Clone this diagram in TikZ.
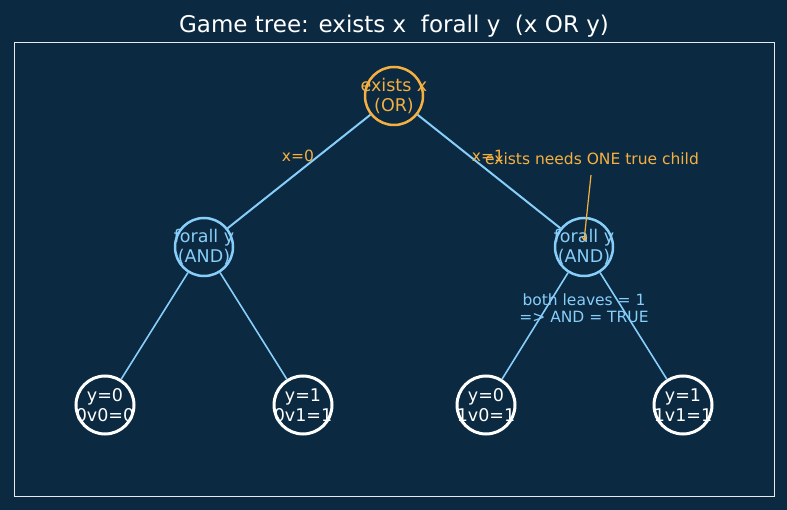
\documentclass[tikz,border=0pt]{standalone}
\usepackage{fontspec}
\setmainfont{DejaVu Sans}
\usetikzlibrary{arrows.meta}
\definecolor{bg}{RGB}{11,41,64}
\definecolor{orng}{RGB}{245,176,65}
\definecolor{lblue}{RGB}{135,206,250}
\tikzset{
  ring/.style={circle, minimum size=58pt, inner sep=0pt, line width=2.5pt},
  ortxt/.style={font=\fontsize{17.5}{20.5}\selectfont, align=center, text=orng},
  bltxt/.style={font=\fontsize{17.5}{20.5}\selectfont, align=center, text=lblue},
  whtxt/.style={font=\fontsize{17.5}{20.5}\selectfont, align=center, text=white},
  edgetop/.style={draw=lblue, line width=2pt},
  edgelow/.style={draw=lblue, line width=1.6pt},
  small/.style={font=\fontsize{15.5}{17.5}\selectfont, align=center}
}
\begin{document}
\begin{tikzpicture}[x=1pt,y=-1pt]
\fill[bg] (0,0) rectangle (787,510);
\useasboundingbox (0,0) rectangle (787,510);
\draw[white!90!bg, line width=1pt] (14,43) rectangle (774,496);
\node[text=white, font=\fontsize{23}{27}\selectfont] (title) at (394,26) {Game tree: exists x\ \ forall y\ \ (x OR y)};
% circles
\node[ring, draw=orng] (root) at (394,96) {};
\node[ring, draw=lblue] (L) at (204,247) {};
\node[ring, draw=lblue] (R) at (584,247) {};
\node[ring, draw=white, line width=3pt] (LL) at (105,405) {};
\node[ring, draw=white, line width=3pt] (LR) at (303,405) {};
\node[ring, draw=white, line width=3pt] (RL) at (486,405) {};
\node[ring, draw=white, line width=3pt] (RR) at (683,405) {};
% edges
\draw[edgetop] (root) -- (L);
\draw[edgetop] (root) -- (R);
\draw[edgelow] (L) -- (LL);
\draw[edgelow] (L) -- (LR);
\draw[edgelow] (R) -- (RL);
\draw[edgelow] (R) -- (RR);
% texts
\node[ortxt] (roott) at (394,96) {exists x\\(OR)};
\node[bltxt] (Lt) at (204,247) {forall y\\(AND)};
\node[bltxt] (Rt) at (584,247) {forall y\\(AND)};
\node[whtxt] (LLt) at (105,405) {y=0\\0v0=0};
\node[whtxt] (LRt) at (303,405) {y=1\\0v1=1};
\node[whtxt] (RLt) at (486,405) {y=0\\1v0=1};
\node[whtxt] (RRt) at (683,405) {y=1\\1v1=1};
% labels
\node[small, text=orng] (x0) at (298,156) {x=0};
\node[small, text=orng] (x1) at (488,156) {x=1};
\node[small, text=orng] (ann) at (592,159) {exists needs ONE true child};
\coordinate (annend) at (584,241);
\draw[orng, line width=1.2pt, -{Straight Barb[length=3pt,width=5pt]}] (591,175) -- (annend);
\node[small, text=lblue] (both) at (584,308) {both leaves = 1\\=> AND = TRUE};
\end{tikzpicture}
\end{document}
